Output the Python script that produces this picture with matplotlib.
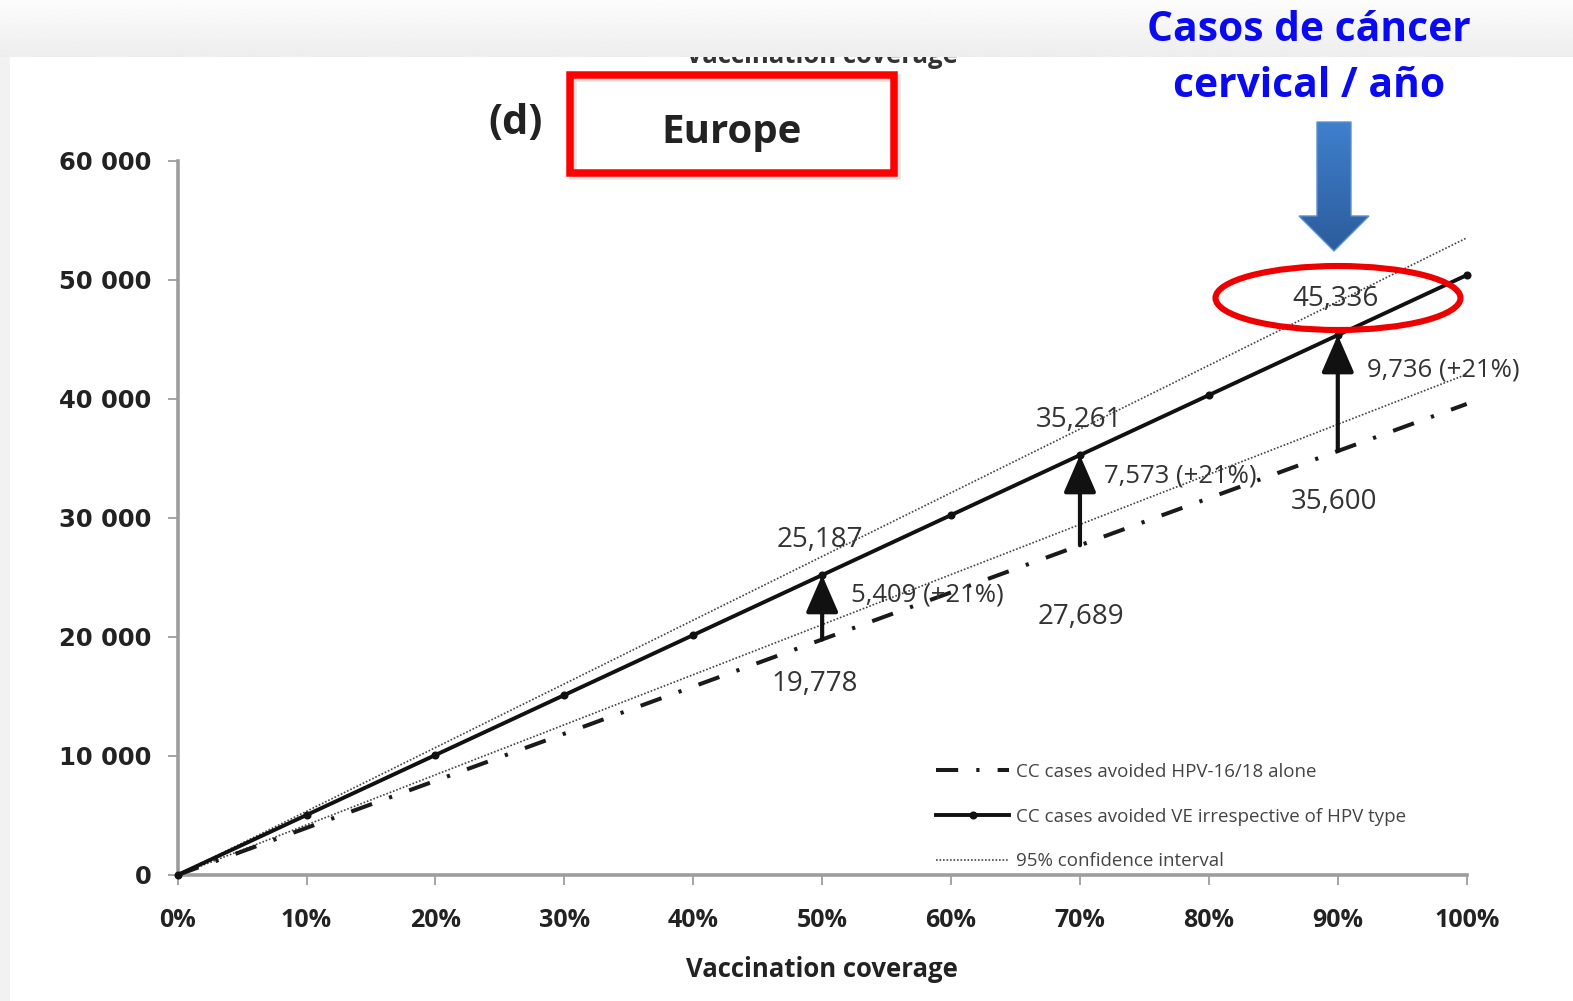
import matplotlib
matplotlib.use('Agg')
import matplotlib.pyplot as plt
import numpy as np
from matplotlib.patches import Rectangle, Ellipse, Polygon
from matplotlib.colors import LinearSegmentedColormap

plt.rcParams['font.family'] = ['Open Sans', 'DejaVu Sans']

W, H, DPI = 1573, 1001, 100

# ---------------- data ----------------
coverage = [0, 10, 20, 30, 40, 50, 60, 70, 80, 90, 100]
cases_any_type = [0, 5037, 10075, 15112, 20149, 25187, 30224, 35261, 40298, 45336, 50373]
coverage_1618 = [0, 50, 70, 90, 100]
cases_hpv1618 = [0, 19778, 27689, 35600, 39556]
ci_coverage = [0, 100]
ci_upper = [0, 53500]
ci_lower = [0, 42050]

arrow_coverage = [50, 70, 90]
arrow_low = [19778, 27689, 35600]
arrow_high = [25187, 35261, 45336]
high_labels = ['25,187', '35,261', '45,336']
low_labels = ['19,778', '27,689', '35,600']
gain_labels = ['5,409 (+21%)', '7,573 (+21%)', '9,736 (+21%)']

x_ticks = [0, 10, 20, 30, 40, 50, 60, 70, 80, 90, 100]
x_tick_labels = ['0%', '10%', '20%', '30%', '40%', '50%', '60%', '70%', '80%', '90%', '100%']
y_ticks = [0, 10000, 20000, 30000, 40000, 50000, 60000]
y_tick_labels = ['0', '10 000', '20 000', '30 000', '40 000', '50 000', '60 000']
legend_labels = ['CC cases avoided HPV-16/18 alone',
                 'CC cases avoided VE irrespective of HPV type',
                 '95% confidence interval']
x_label = 'Vaccination coverage'
panel_tag = '(d)'
region = 'Europe'
callout = ['Casos de cáncer', 'cervical / año']

# ---------------- figure ----------------
fig = plt.figure(figsize=(W / DPI, H / DPI), dpi=DPI, facecolor='white')

ax_l, ax_r, ax_b, ax_t = 177.6, 1466.7, 875.0, 160.5
ax = fig.add_axes([ax_l / W, 1 - ax_b / H, (ax_r - ax_l) / W, (ax_b - ax_t) / H])
ax.set_xlim(0, 100)
ax.set_ylim(0, 60000)
ax.patch.set_alpha(0)

l_dd, = ax.plot(coverage_1618, cases_hpv1618, color='#1a1a1a', lw=2.9,
                dashes=(5.5, 4.5, 0.8, 4.5), dash_capstyle='butt', clip_on=False, zorder=3)
l_solid, = ax.plot(coverage, cases_any_type, color='#111111', lw=2.8, marker='o',
                   ms=4.8, clip_on=False, zorder=4)
l_ci, = ax.plot(ci_coverage, ci_upper, color='#444444', lw=1.2, ls=(0, (1, 1.1)), zorder=2)
ax.plot(ci_coverage, ci_lower, color='#444444', lw=1.2, ls=(0, (1, 1.1)), zorder=2)

px = 0.72  # pixels -> points
high_off = [(-2, 35), (-1, 35), (-2, 36)]
low_off = [(-7, -45), (1, -72), (-4, -51)]
gain_off = [(29, 12), (24, 24), (29, 23)]
txt_col = '#333333'
for i, c in enumerate(arrow_coverage):
    lo, hi = arrow_low[i], arrow_high[i]
    ax.annotate('', xy=(c, hi), xytext=(c, lo),
                arrowprops=dict(arrowstyle='-|>,head_length=1.15,head_width=0.5',
                                mutation_scale=20, lw=3.0, color='#111111',
                                shrinkA=0, shrinkB=0), zorder=5)
    ax.annotate(high_labels[i], xy=(c, hi), xytext=(high_off[i][0] * px, high_off[i][1] * px),
                textcoords='offset points', ha='center', va='center', fontsize=20, color=txt_col)
    ax.annotate(low_labels[i], xy=(c, lo), xytext=(low_off[i][0] * px, low_off[i][1] * px),
                textcoords='offset points', ha='center', va='center', fontsize=20, color=txt_col)
    ax.annotate(gain_labels[i], xy=(c, (lo + hi) / 2), xytext=(gain_off[i][0] * px, gain_off[i][1] * px),
                textcoords='offset points', ha='left', va='center', fontsize=18.5, color=txt_col)

for s in ['top', 'right']:
    ax.spines[s].set_visible(False)
for s in ['left', 'bottom']:
    ax.spines[s].set_color('#9d9d9d')
    ax.spines[s].set_linewidth(2.6)

ax.set_xticks(x_ticks, x_tick_labels)
ax.set_yticks(y_ticks, y_tick_labels)
ax.tick_params(axis='x', length=7, width=1.3, color='#9d9d9d', pad=17, labelsize=18,
               labelcolor='#222222')
ax.tick_params(axis='y', length=7, width=1.3, color='#9d9d9d', pad=12, labelsize=17.5,
               labelcolor='#222222')
for t in ax.get_xticklabels():
    t.set_fontweight('bold')
for t in ax.get_yticklabels():
    t.set_fontweight('bold')
    t.set_fontfamily('DejaVu Sans')

ax.set_xlabel(x_label, fontsize=18.5, fontweight='bold', color='#222222')
ax.xaxis.set_label_coords(0.5, (ax_b - 956) / (ax_b - ax_t))

leg = ax.legend([l_dd, l_solid, l_ci], legend_labels, loc='upper left',
                bbox_to_anchor=(936 / W, 1 - 763 / H), bbox_transform=fig.transFigure,
                frameon=False, fontsize=13.5, handlelength=3.9, handletextpad=0.35,
                labelspacing=1.42, borderpad=0, borderaxespad=0, labelcolor='#444444')

# ---------------- overlay decorations (pixel coords) ----------------
ov = fig.add_axes([0, 0, 1, 1])
ov.set_xlim(0, W)
ov.set_ylim(H, 0)
ov.axis('off')
ov.patch.set_alpha(0)
ov.set_zorder(10)

# cut-off title behind the top strip
ov.text(822, 63, x_label, ha='center', va='baseline', fontsize=18.5, fontweight='bold',
        color='#333333', zorder=1)
# top grey strip with gradient
grad = np.linspace(0.99, 0.93, 60).reshape(-1, 1)
ov.imshow(grad, extent=(0, W, 57, 0), cmap='gray', vmin=0, vmax=1, aspect='auto',
          zorder=2, interpolation='bilinear')
ov.add_patch(Rectangle((0, 57), 10, H - 57, facecolor='#f2f2f2', edgecolor='none', zorder=2))

# panel tag and red box
ov.text(516, 123, panel_tag, ha='center', va='center', fontsize=30, fontweight='bold',
        color='#222222', zorder=5)
ov.add_patch(Rectangle((573, 78), 324, 98, fill=False, edgecolor='#b0b0b0', lw=5.4,
                       alpha=0.35, zorder=4))
ov.add_patch(Rectangle((570, 75), 324, 98, fill=False, edgecolor='#ff0000', lw=5.4, zorder=5))
ov.text(732, 143, region, ha='center', va='baseline', fontsize=29, fontweight='bold',
        color='#222222', zorder=5)

# blue callout
ov.text(1309, 41, callout[0], ha='center', va='baseline', fontsize=29.3, fontweight='bold',
        color='#0a0af0', zorder=6)
ov.text(1309, 97, callout[1], ha='center', va='baseline', fontsize=29.3, fontweight='bold',
        color='#0a0af0', zorder=6)

verts = [(1317, 122), (1351, 122), (1351, 216), (1369, 216), (1334, 251),
         (1299, 216), (1317, 216)]
poly = Polygon(verts, closed=True, facecolor='none', edgecolor='#5b8fd2', lw=1, zorder=7)
ov.add_patch(poly)
bgrad = np.linspace(0, 1, 100).reshape(-1, 1)
bcmap = LinearSegmentedColormap.from_list('b', ['#3f80cd', '#2c5c9c'])
im = ov.imshow(bgrad, extent=(1297, 1371, 252, 120), cmap=bcmap, aspect='auto', zorder=6,
               interpolation='bilinear')
im.set_clip_path(poly)

ov.add_patch(Ellipse((1338, 298), 245, 64, fill=False, edgecolor='#ee0000', lw=4.4, zorder=6))

fig.savefig('out.png', dpi=DPI, facecolor='white')
